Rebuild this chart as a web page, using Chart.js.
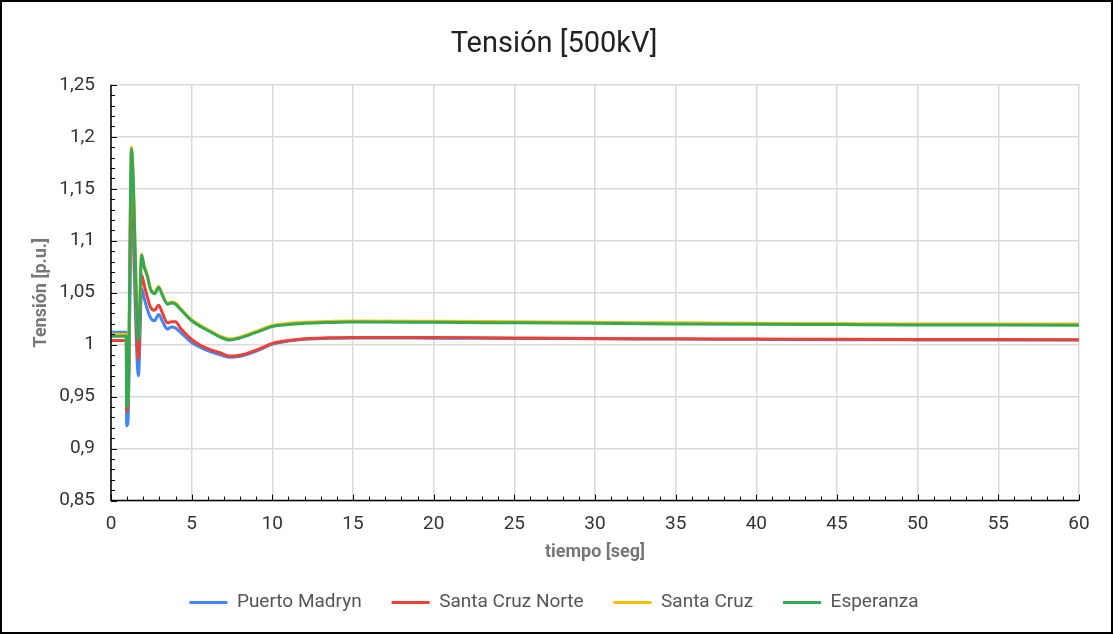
<!DOCTYPE html>
<html lang="es">
<head>
<meta charset="utf-8">
<title>Tensión [500kV]</title>
<script src="https://cdn.jsdelivr.net/npm/chart.js@4.4.1/dist/chart.umd.min.js"></script>
<style>
  html, body { margin: 0; padding: 0; background: #fff; }
  #wrap { width: 1113px; height: 634px; }
</style>
</head>
<body>
<div id="wrap"><canvas id="grafico" width="1113" height="634"></canvas></div>
<script>
// Tiempo de simulación [s]
const tiempo = [0, 0.95, 0.97, 1.05, 1.27, 1.35, 1.70, 1.90, 2.05, 2.25, 2.45, 2.70, 2.95, 3.20, 3.50, 3.75, 4.00, 4.30,
  5.0, 5.6, 6.2, 6.8, 7.35, 7.9, 8.5, 9.2, 10, 11, 12, 13.5, 15, 20, 25, 30, 35, 40, 45, 50, 55, 60];

// Tensión en barras de 500 kV [p.u.]
const puertoMadryn = [1.012, 1.012, 0.922, 0.925, 1.130, 1.112, 0.970, 1.054, 1.045, 1.034, 1.026, 1.023, 1.029, 1.022,
  1.015, 1.017, 1.016, 1.012, 1.002, 0.997, 0.993, 0.990, 0.988, 0.9885, 0.991, 0.995, 1.0005, 1.0035, 1.0053, 1.0061,
  1.0065, 1.0063, 1.006, 1.0057, 1.0054, 1.0051, 1.0048, 1.0046, 1.0045, 1.0044];
const santaCruzNorte = [1.004, 1.004, 0.936, 0.939, 1.155, 1.140, 0.986, 1.067, 1.058, 1.046, 1.036, 1.033, 1.038, 1.030,
  1.021, 1.022, 1.022, 1.016, 1.005, 0.999, 0.995, 0.992, 0.989, 0.9895, 0.992, 0.996, 1.0013, 1.004, 1.0058, 1.0066,
  1.007, 1.0068, 1.0064, 1.006, 1.0057, 1.0054, 1.0052, 1.005, 1.0049, 1.0048];
const santaCruz = [1.010, 1.010, 0.942, 0.945, 1.190, 1.172, 1.006, 1.087, 1.076, 1.067, 1.054, 1.050, 1.056, 1.048,
  1.040, 1.041, 1.040, 1.035, 1.024, 1.018, 1.013, 1.008, 1.0055, 1.007, 1.010, 1.014, 1.0185, 1.0205, 1.0215, 1.0223,
  1.0228, 1.0225, 1.022, 1.0215, 1.021, 1.0206, 1.0203, 1.020, 1.0199, 1.0198];
const esperanza = [1.008, 1.008, 0.940, 0.943, 1.188, 1.170, 1.004, 1.086, 1.075, 1.066, 1.053, 1.049, 1.055, 1.047,
  1.039, 1.040, 1.039, 1.034, 1.023, 1.017, 1.012, 1.007, 1.0045, 1.006, 1.009, 1.013, 1.0175, 1.0195, 1.0205, 1.0213,
  1.0218, 1.0215, 1.021, 1.0205, 1.020, 1.0196, 1.0193, 1.019, 1.0189, 1.0188];

const series = [
  { label: 'Puerto Madryn',    valores: puertoMadryn,   color: '#4285F4', orden: 3 },
  { label: 'Santa Cruz Norte', valores: santaCruzNorte, color: '#EA4335', orden: 2 },
  { label: 'Santa Cruz',       valores: santaCruz,      color: '#FBBC04', orden: 1 },
  { label: 'Esperanza',        valores: esperanza,      color: '#34A853', orden: 0 }
];

const FUENTE = "Roboto, 'Liberation Sans', Arial, sans-serif";

const fmtComa = v => {
  const r = Math.round(v * 100) / 100;
  return String(r).replace('.', ',');
};

// Marco exterior y marcas interiores de los ejes
const marcoYMarcas = {
  id: 'marcoYMarcas',
  beforeDraw(chart) {
    const { ctx, width, height } = chart;
    ctx.save();
    ctx.fillStyle = '#fff';
    ctx.fillRect(0, 0, width, height);
    ctx.restore();
  },
  afterDraw(chart) {
    const { ctx, width, height, chartArea: a, scales } = chart;
    const x = scales.x, y = scales.y;
    ctx.save();
    ctx.strokeStyle = '#000';
    ctx.lineWidth = 1;
    // marcas del eje X, cada 1 s
    for (let t = 0; t <= 60; t += 1) {
      const px = Math.round(x.getPixelForValue(t)) + 0.5;
      const len = t % 5 === 0 ? 6 : 4;
      ctx.beginPath();
      ctx.moveTo(px, a.bottom);
      ctx.lineTo(px, a.bottom - len);
      ctx.stroke();
    }
    // marcas del eje Y, cada 0,01 p.u.
    for (let k = 85; k <= 125; k += 1) {
      const py = Math.round(y.getPixelForValue(k / 100)) + 0.5;
      const len = k % 5 === 0 ? 6 : 4;
      ctx.beginPath();
      ctx.moveTo(a.left, py);
      ctx.lineTo(a.left + len, py);
      ctx.stroke();
    }
    // ejes
    ctx.lineWidth = 1.5;
    ctx.beginPath();
    ctx.moveTo(a.left, a.top);
    ctx.lineTo(a.left, a.bottom);
    ctx.lineTo(a.right, a.bottom);
    ctx.stroke();
    // marco
    ctx.lineWidth = 2;
    ctx.strokeRect(1, 1, width - 2, height - 2);
    ctx.restore();
  }
};

new Chart(document.getElementById('grafico'), {
  type: 'line',
  data: {
    datasets: series.map(s => ({
      label: s.label,
      data: tiempo.map((t, i) => ({ x: t, y: s.valores[i] })),
      borderColor: s.color,
      backgroundColor: s.color,
      borderWidth: 3,
      pointRadius: 0,
      pointHoverRadius: 0,
      cubicInterpolationMode: 'monotone',
      fill: false,
      order: s.orden
    }))
  },
  options: {
    responsive: false,
    animation: false,
    devicePixelRatio: 1,
    layout: { padding: { top: 14, right: 34, bottom: 12, left: 29 } },
    plugins: {
      title: {
        display: true,
        text: 'Tensión [500kV]',
        color: '#222',
        font: { family: FUENTE, size: 29, weight: 'normal' },
        padding: { top: 13, bottom: 23 }
      },
      legend: {
        position: 'bottom',
        labels: {
          color: '#555',
          font: { family: FUENTE, size: 19 },
          boxWidth: 38,
          boxHeight: 3,
          padding: 30,
          sort: (a, b) => a.datasetIndex - b.datasetIndex,
          generateLabels(chart) {
            return Chart.defaults.plugins.legend.labels.generateLabels(chart)
              .map(l => Object.assign(l, { lineWidth: 0 }));
          }
        }
      },
      tooltip: { enabled: false }
    },
    scales: {
      x: {
        type: 'linear',
        min: 0,
        max: 60,
        ticks: {
          stepSize: 5,
          color: '#333',
          padding: 12,
          maxRotation: 0,
          font: { family: FUENTE, size: 19 }
        },
        grid: { color: '#dadada', lineWidth: 1.5, drawTicks: false },
        border: { display: false },
        title: {
          display: true,
          text: 'tiempo [seg]',
          color: '#777',
          font: { family: FUENTE, size: 18, weight: 'bold' },
          padding: { top: -6, bottom: 0 }
        }
      },
      y: {
        type: 'linear',
        min: 0.85,
        max: 1.25,
        afterFit(scale) { scale.width = 82; },
        ticks: {
          stepSize: 0.05,
          color: '#333',
          padding: 16,
          font: { family: FUENTE, size: 19 },
          callback: v => fmtComa(v)
        },
        grid: { color: '#dadada', lineWidth: 1.5, drawTicks: false },
        border: { display: false },
        title: {
          display: true,
          text: 'Tensión [p.u.]',
          color: '#777',
          font: { family: FUENTE, size: 18, weight: 'bold' },
          padding: { top: 2, bottom: 0 }
        }
      }
    }
  },
  plugins: [marcoYMarcas]
});
</script>
</body>
</html>
